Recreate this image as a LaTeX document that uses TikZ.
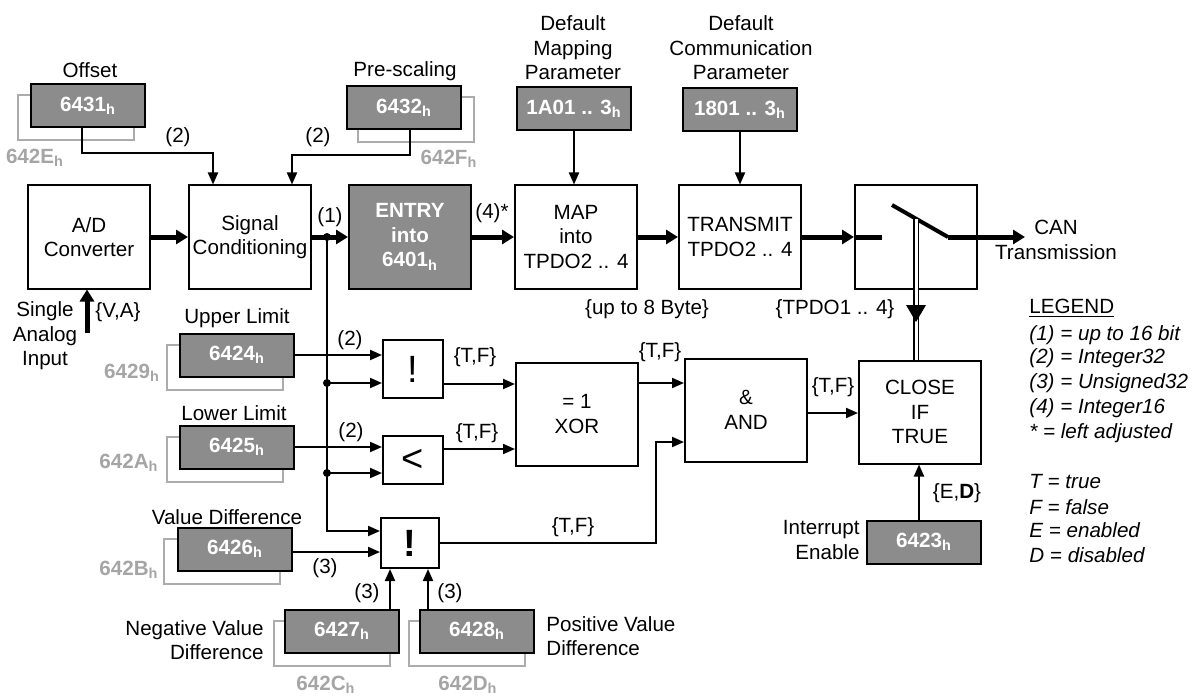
\documentclass[tikz,border=0pt]{standalone}
\usepackage{fontspec}
\setmainfont{Liberation Sans}
\usepackage{tikz}
\usetikzlibrary{arrows.meta,backgrounds,calc}
\definecolor{paramgray}{RGB}{140,140,140}
\definecolor{shadowgray}{RGB}{172,172,172}
\definecolor{labelgray}{RGB}{165,165,165}

\begin{document}
\begin{tikzpicture}[x=0.5pt,y=-0.5pt,
  font=\fontsize{10.3}{12.3}\selectfont,
  blk/.style={draw,line width=1pt,minimum width=61pt,minimum height=51.5pt,align=center,inner sep=0pt},
  param/.style={draw,line width=1pt,fill=paramgray,text=white,font=\fontsize{10.3}{12.3}\selectfont\bfseries,minimum width=57pt,minimum height=21.5pt,inner sep=0pt},
  shadowbox/.style={draw=shadowgray,line width=1pt},
  glabel/.style={text=labelgray,font=\fontsize{10.3}{12.3}\selectfont\bfseries,inner sep=0pt},
  bigsym/.style={font=\fontsize{19}{19}\selectfont},
  txt/.style={align=center,inner sep=0pt},
  arr/.style={line width=1pt,-{Triangle[length=6pt,width=5pt]}},
  bigarr/.style={line width=2.5pt,-{Triangle[length=6pt,width=7pt]}}]
  \useasboundingbox (0,0) rectangle (1192,695);

  % main chain
  \node[blk] (ad) at (89,237) {A/D\\Converter};
  \node[blk] (sig) at (250,237) {Signal\\Conditioning};
  \node[blk,fill=paramgray,text=white,font=\fontsize{10.3}{12.3}\selectfont\bfseries] (entry) at (410,237) {ENTRY\\into\\6401\textsubscript{h}};
  \node[blk] (map) at (576,237) {MAP\\into\\TPDO2 .. 4};
  \node[blk] (tx) at (740,237) {TRANSMIT\\TPDO2 .. 4};
  \node[blk] (sw) at (916,237) {};

  % logic
  \node[blk,minimum width=30pt,minimum height=29pt,bigsym] (not1) at (413,369) {!};
  \node[blk,minimum width=30pt,minimum height=24pt,bigsym] (lt) at (413,460) {<};
  \node[blk,minimum width=29pt,minimum height=25pt,font=\fontsize{19}{19}\selectfont\bfseries] (not2) at (410,543) {!};
  \node[blk] (xor) at (577,414) {= 1\\XOR};
  \node[blk] (and) at (746,410) {\&\\AND};
  \node[blk] (close) at (920,412) {CLOSE\\IF\\TRUE};

  % parameter objects
  \node[param] (p6431) at (88,106) {6431\textsubscript{h}};
  \node[param] (p6432) at (404,108) {6432\textsubscript{h}};
  \node[param] (p1A01) at (574,109) {1A01 .. 3\textsubscript{h}};
  \node[param] (p1801) at (740,110) {1801 .. 3\textsubscript{h}};
  \node[param] (p6424) at (237,355) {6424\textsubscript{h}};
  \node[param] (p6425) at (237,447) {6425\textsubscript{h}};
  \node[param] (p6426) at (235,549) {6426\textsubscript{h}};
  \node[param] (p6427) at (342,631) {6427\textsubscript{h}};
  \node[param] (p6428) at (477,631) {6428\textsubscript{h}};
  \node[param] (p6423) at (924,542) {6423\textsubscript{h}};
  \begin{scope}[on background layer]
    \foreach \n/\dx in {p6431/-12,p6432/12,p6424/-12,p6425/-12,p6426/-13,p6427/-10,p6428/-10}{
      \draw[shadowbox] ([xshift=\dx*0.5pt,yshift=-6pt]\n.south west) rectangle ([xshift=\dx*0.5pt,yshift=-6pt]\n.north east);
    }
  \end{scope}
  \foreach \x/\y/\t in {35/158/642E,449/159/642F,132/373/6429,129/463/642A,129/570/642B,326/685/642C,468/685/642D}{
    \node[glabel] at (\x,\y) {\t\textsubscript{h}};
  }

  % names
  \node at (90,70) {Offset};
  \node at (405,71) {Pre-scaling};
  \node[txt] at (573,48) {Default\\Mapping\\Parameter};
  \node[txt] at (741,48) {Default\\Communication\\Parameter};
  \node at (237,318) {Upper Limit};
  \node at (234,413) {Lower Limit};
  \node at (227,517) {Value Difference};
  \node[txt,align=right,anchor=east] at (264,640) {Negative Value\\Difference};
  \node[txt,align=left,anchor=west] at (546,636) {Positive Value\\Difference};
  \node[txt] at (45,336) {Single\\Analog\\Input};
  \node[txt,align=right,anchor=east] at (860,540) {Interrupt\\Enable};
  \node[txt] (can) at (1056,240) {CAN\\Transmission};

  % thick data path
  \coordinate (ain) at (87,333);
  \draw[bigarr] (ain) -- (ain |- ad.south);
  \draw[bigarr] (ad.east) -- (sig.west);
  \draw[bigarr] (sig.east) -- (entry.west);
  \draw[bigarr] (entry.east) -- (map.west);
  \draw[bigarr] (map.east) -- (tx.west);
  \draw[bigarr] (tx.east) -- (sw.west);
  \coordinate (bladeA) at (892,205);
  \coordinate (bladeB) at (948,237);
  \coordinate (bladeM) at (916,219);
  \coordinate (canin) at (1025,237);
  \draw[line width=2.5pt] (sw.west) -- ++(28,0);
  \draw[line width=2pt] (bladeA) -- (bladeB);
  \draw[bigarr] (bladeB) -- (canin);
  \draw[double,double distance=1.5pt,line width=0.6pt] (bladeM) -- (bladeM |- close.north);
  \fill ($(bladeM)+(-10,86)$) -- ++(20,0) -- ($(bladeM)+(0,103)$) -- cycle;

  % parameter inputs
  \draw[arr] ([xshift=-3pt]p6431.south) -- ++(0,25) -| ([xshift=-18.5pt]sig.north);
  \draw[arr] ([xshift=3pt]p6432.south) -- ++(0,25) -| ([xshift=21pt]sig.north);
  \draw[arr] (p1A01.south) -- (p1A01.south |- map.north);
  \draw[arr] (p1801.south) -- (p1801.south |- tx.north);
  \draw[arr] (p6424.east) -- (p6424.east -| not1.west);
  \draw[arr] (p6425.east) -- (p6425.east -| lt.west);
  \draw[arr] ([yshift=-1.5pt]p6426.east) -- ([yshift=-1.5pt]p6426.east -| not2.west);
  \draw[arr] ([xshift=24pt]p6427.north) -- ([xshift=24pt]p6427.north |- not2.south);
  \draw[arr] ([xshift=-24.5pt]p6428.north) -- ([xshift=-24.5pt]p6428.north |- not2.south);
  \draw[arr] ([xshift=-2.5pt]p6423.north) -- ([xshift=-2.5pt]p6423.north |- close.south);

  % branch of the conditioned signal
  \coordinate (jA) at (327,237);
  \coordinate (jB) at (327,383);
  \coordinate (jC) at (327,473);
  \draw[arr] (jA) |- ([yshift=6pt]not2.west);
  \draw[arr] (jB) -- (jB -| not1.west);
  \draw[arr] (jC) -- (jC -| lt.west);
  \foreach \j in {jA,jB,jC}{
    \fill (\j) circle (2pt);
  }

  % logic outputs
  \draw[arr] ([yshift=-7.5pt]not1.east) -- ([yshift=-7.5pt]not1.east -| xor.west);
  \draw[arr] ([yshift=5.5pt]lt.east) -- ([yshift=5.5pt]lt.east -| xor.west);
  \draw[arr] ([yshift=15.5pt]xor.east) -- ([yshift=15.5pt]xor.east -| and.west);
  \draw[arr] (not2.east) -| ([xshift=-14pt,yshift=-16pt]and.west) -- ([yshift=-16pt]and.west);
  \draw[arr] ([yshift=-1.5pt]and.east) -- ([yshift=-1.5pt]and.east -| close.west);

  % connector labels
  \foreach \x/\y/\t in {330/217/(1),492/213/(4)*,178/137/(2),318/137/(2),350/340/(2),351/432/(2),325/568/(3),367/593/(3),450/593/(3)}{
    \node at (\x,\y) {\t};
  }
  \foreach \x/\y in {475/357,477/433,573/527,660/352,833/387}{
    \node at (\x,\y) {\{T,F\}};
  }
  \node at (118,312) {\{V,A\}};
  \node at (647,309) {\{up to 8 Byte\}};
  \node at (835,309) {\{TPDO1 .. 4\}};
  \node at (957,493) {\{E,\textbf{D}\}};

  % legend
  \node[anchor=west,inner sep=0pt] at (1029,308) {\underline{LEGEND}};
  \foreach \y/\t in {335/{(1) = up to 16 bit},358/{(2) = Integer32},383/{(3) = Unsigned32},408/{(4) = Integer16},433/{* = left adjusted},482/{T = true},507/{F = false},530/{E = enabled},555/{D = disabled}}{
    \node[anchor=west,inner sep=0pt,font=\fontsize{10.3}{12.3}\selectfont\itshape] at (1029,\y) {\t};
  }
\end{tikzpicture}
\end{document}
